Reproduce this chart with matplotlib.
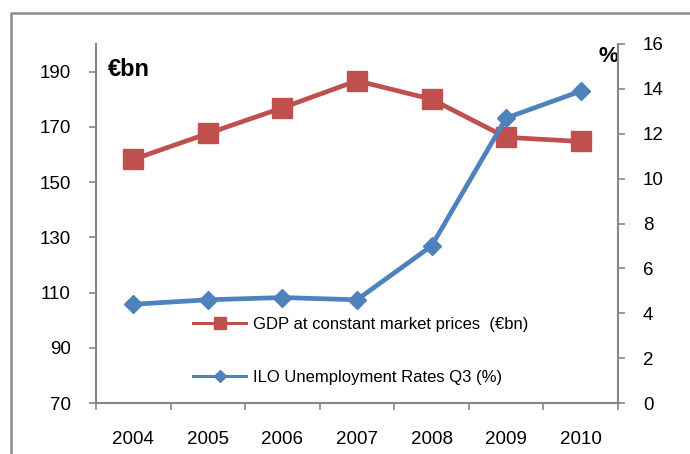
import matplotlib.pyplot as plt
from matplotlib.patches import Rectangle

plt.rcParams['font.family'] = ['Liberation Sans', 'DejaVu Sans']

years = ["2004", "2005", "2006", "2007", "2008", "2009", "2010"]
gdp = [158.2, 167.6, 176.9, 186.7, 180.0, 166.2, 164.7]        # €bn
unemployment = [4.4, 4.6, 4.7, 4.6, 7.0, 12.7, 13.9]            # %

left_ticks = [70, 90, 110, 130, 150, 170, 190]
right_ticks = [0, 2, 4, 6, 8, 10, 12, 14, 16]

red = "#C0504D"
blue = "#4F81BD"
grey = "#868686"

fig = plt.figure(figsize=(6.9, 4.54), dpi=100)
ax = fig.add_axes([96 / 690, 1 - 403 / 454, (618 - 96) / 690, (403 - 44) / 454])
ax2 = ax.twinx()

x = list(range(len(years)))
ax.plot(x, gdp, color=red, lw=3.4, marker="s", ms=14, mec=red,
        label="GDP at constant market prices  (€bn)")
ax2.plot(x, unemployment, color=blue, lw=3.4, marker="D", ms=9.5, mec=blue,
         label="ILO Unemployment Rates Q3 (%)")

ax.set_xlim(-0.5, len(years) - 0.5)
ax.set_ylim(70, 200)
ax2.set_ylim(0, 16)
ax.set_yticks(left_ticks)
ax2.set_yticks(right_ticks)
ax.set_xticks(x)
ax.set_xticklabels(years)
ax.set_xticks([i - 0.5 for i in range(len(years) + 1)], minor=True)

for a in (ax, ax2):
    a.spines["top"].set_visible(False)
    for s in ("left", "right", "bottom"):
        a.spines[s].set_color(grey)
        a.spines[s].set_linewidth(1.5)
ax.spines["right"].set_visible(False)
ax2.spines["left"].set_visible(False)
ax2.spines["bottom"].set_visible(False)

ax.tick_params(axis="x", which="major", length=0, pad=20, labelsize=13.5)
ax.tick_params(axis="x", which="minor", length=5, width=1.2, color=grey, direction="out")
ax.tick_params(axis="y", length=5, width=1.2, color=grey, pad=13, labelsize=13.5)
ax2.tick_params(axis="y", length=5, width=1.2, color=grey, pad=13, labelsize=13.5)

ax.text(108 / 690, 1 - 70 / 454, "€bn", transform=fig.transFigure, fontsize=17,
        fontweight="bold", va="center", ha="left")
ax.text(618 / 690, 1 - 56 / 454, "%", transform=fig.transFigure, fontsize=16,
        fontweight="bold", va="center", ha="right")

h1, l1 = ax.get_legend_handles_labels()
h2, l2 = ax2.get_legend_handles_labels()
leg = ax2.legend(h1 + h2, l1 + l2, loc="center left", frameon=False,
                 bbox_to_anchor=(193 / 690, 1 - 351 / 454), bbox_transform=fig.transFigure,
                 fontsize=12, markerscale=0.6, handlelength=3.2, handletextpad=0.4,
                 labelspacing=2.3, borderpad=0, borderaxespad=0)
for h in leg.legend_handles:
    h.set_linewidth(2.2)

# outer chart border
fig.patches.append(Rectangle((11 / 690, -0.1), 1.2, 1 - 13 / 454 + 0.1,
                             transform=fig.transFigure, fill=False,
                             edgecolor="#8c8c8c", lw=1.8))

fig.savefig("out.png", dpi=100)
